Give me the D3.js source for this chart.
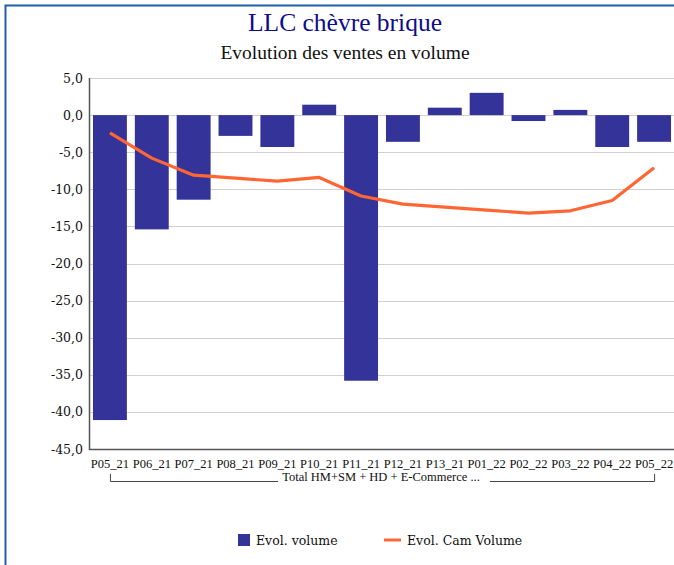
<!DOCTYPE html>
<html>
<head>
<meta charset="utf-8">
<script src="https://cdn.jsdelivr.net/npm/d3@7"></script>
<style>
  body { margin: 0; background: #fff; }
  svg { display: block; }
</style>
</head>
<body>
<div id="chart"></div>
<script>
// chart data
var categories = ["P05_21", "P06_21", "P07_21", "P08_21", "P09_21", "P10_21", "P11_21",
  "P12_21", "P13_21", "P01_22", "P02_22", "P03_22", "P04_22", "P05_22"];
var evolVolume = [-41.1, -15.4, -11.4, -2.8, -4.3, 1.4, -35.8, -3.6, 1.0, 3.0, -0.8, 0.7, -4.3, -3.6];
var evolCamVolume = [-2.4, -5.8, -8.1, -8.5, -8.9, -8.4, -10.9, -12.0, -12.4, -12.8, -13.2, -12.9, -11.5, -7.1];
var yTicks = [5, 0, -5, -10, -15, -20, -25, -30, -35, -40, -45];
var groupLabel = "Total HM+SM + HD + E-Commerce ...";

var svgWidth = 674;
var svgHeight = 565;
var margin = { top: 78, right: 0, bottom: 116, left: 89 };
var plotRight = 675;
var plotBottom = svgHeight - margin.bottom;

var barColor = "#333399";
var lineColor = "#ff6633";

var svg = d3.select("#chart")
  .append("svg")
  .attr("width", svgWidth)
  .attr("height", svgHeight);

// outer frame (only left and top visible)
svg.append("rect")
  .attr("x", 5.5)
  .attr("y", 5.5)
  .attr("width", 700)
  .attr("height", 600)
  .attr("fill", "none")
  .attr("stroke", "#1f5fae")
  .attr("stroke-width", 2);

// titles
svg.append("text")
  .attr("x", 345)
  .attr("y", 31)
  .attr("text-anchor", "middle")
  .attr("font-family", "Liberation Serif, serif")
  .attr("font-size", "25.5px")
  .attr("fill", "#0c0c8c")
  .text("LLC chèvre brique");

svg.append("text")
  .attr("x", 345)
  .attr("y", 59)
  .attr("text-anchor", "middle")
  .attr("font-family", "Liberation Serif, serif")
  .attr("font-size", "19.5px")
  .attr("fill", "#111")
  .text("Evolution des ventes en volume");

// scales
var x = d3.scaleBand()
  .domain(categories)
  .range([margin.left, plotRight])
  .paddingInner(0.19)
  .paddingOuter(0.095);

var y = d3.scaleLinear()
  .domain([-45, 5])
  .range([plotBottom, margin.top]);

// gridlines
svg.append("g")
  .selectAll("line")
  .data(yTicks)
  .enter()
  .append("line")
  .attr("x1", margin.left)
  .attr("x2", plotRight)
  .attr("y1", d => Math.round(y(d)) + 0.5)
  .attr("y2", d => Math.round(y(d)) + 0.5)
  .attr("stroke", "#d0d0d0")
  .attr("stroke-width", 1);

// y axis
var leftAxis = d3.axisLeft(y)
  .tickValues(yTicks)
  .tickSize(0)
  .tickPadding(6)
  .tickFormat(d => d3.format(".1f")(d).replace(".", ",").replace("−", "-"));

var yAxisG = svg.append("g")
  .attr("transform", `translate(${margin.left}, 0)`)
  .attr("font-family", "DejaVu Serif, serif")
  .call(leftAxis);
yAxisG.attr("font-family", "DejaVu Serif, serif");
yAxisG.select(".domain").remove();
yAxisG.selectAll("text")
  .attr("font-family", "DejaVu Serif, serif")
  .attr("font-size", "12.5px")
  .attr("fill", "#111");

// bars
svg.append("g")
  .selectAll("rect")
  .data(evolVolume)
  .enter()
  .append("rect")
  .attr("x", (d, i) => x(categories[i]))
  .attr("width", x.bandwidth())
  .attr("y", d => y(Math.max(0, d)))
  .attr("height", d => Math.abs(y(d) - y(0)))
  .attr("fill", barColor);

// line
var line = d3.line()
  .x((d, i) => x(categories[i]) + x.bandwidth() / 2)
  .y(d => y(d));

svg.append("path")
  .datum(evolCamVolume)
  .attr("d", line)
  .attr("fill", "none")
  .attr("stroke", lineColor)
  .attr("stroke-width", 3.2)
  .attr("stroke-linejoin", "round");

// axis lines
svg.append("line")
  .attr("x1", margin.left + 0.5).attr("x2", margin.left + 0.5)
  .attr("y1", margin.top).attr("y2", plotBottom + 1)
  .attr("stroke", "#555").attr("stroke-width", 1.5);

svg.append("line")
  .attr("x1", margin.left).attr("x2", plotRight)
  .attr("y1", plotBottom + 0.5).attr("y2", plotBottom + 0.5)
  .attr("stroke", "#555").attr("stroke-width", 1.5);

// x axis labels
var bottomAxis = d3.axisBottom(x).tickSize(0).tickPadding(10);
var xAxisG = svg.append("g")
  .attr("transform", `translate(0, ${plotBottom})`)
  .call(bottomAxis);
xAxisG.select(".domain").remove();
xAxisG.selectAll("text")
  .attr("font-family", "Liberation Serif, serif")
  .attr("font-size", "12.5px")
  .attr("fill", "#111");

// group bracket
var bx1 = x(categories[0]) + x.bandwidth() / 2;
var bx2 = x(categories[categories.length - 1]) + x.bandwidth() / 2;
var bTop = 474;
var bBot = 481.5;
var bracket = svg.append("g")
  .attr("stroke", "#444")
  .attr("stroke-width", 1)
  .attr("fill", "none");
bracket.append("path").attr("d", `M${bx1 + 0.5},${bTop}V${bBot}H${278}`);
bracket.append("path").attr("d", `M${490},${bBot}H${bx2 + 0.5}V${bTop}`);

svg.append("text")
  .attr("x", 381)
  .attr("y", 481)
  .attr("text-anchor", "middle")
  .attr("font-family", "Liberation Serif, serif")
  .attr("font-size", "12.5px")
  .attr("fill", "#111")
  .text(groupLabel);

// legend
var legend = svg.append("g")
  .attr("font-family", "DejaVu Serif, serif")
  .attr("font-size", "12.5px")
  .attr("fill", "#111");

legend.append("rect")
  .attr("x", 238).attr("y", 534)
  .attr("width", 12).attr("height", 12)
  .attr("fill", barColor);
legend.append("text")
  .attr("x", 256).attr("y", 545)
  .text("Evol. volume");

legend.append("line")
  .attr("x1", 384).attr("x2", 401)
  .attr("y1", 540).attr("y2", 540)
  .attr("stroke", lineColor)
  .attr("stroke-width", 3);
legend.append("text")
  .attr("x", 407).attr("y", 545)
  .text("Evol. Cam Volume");
</script>
</body>
</html>
